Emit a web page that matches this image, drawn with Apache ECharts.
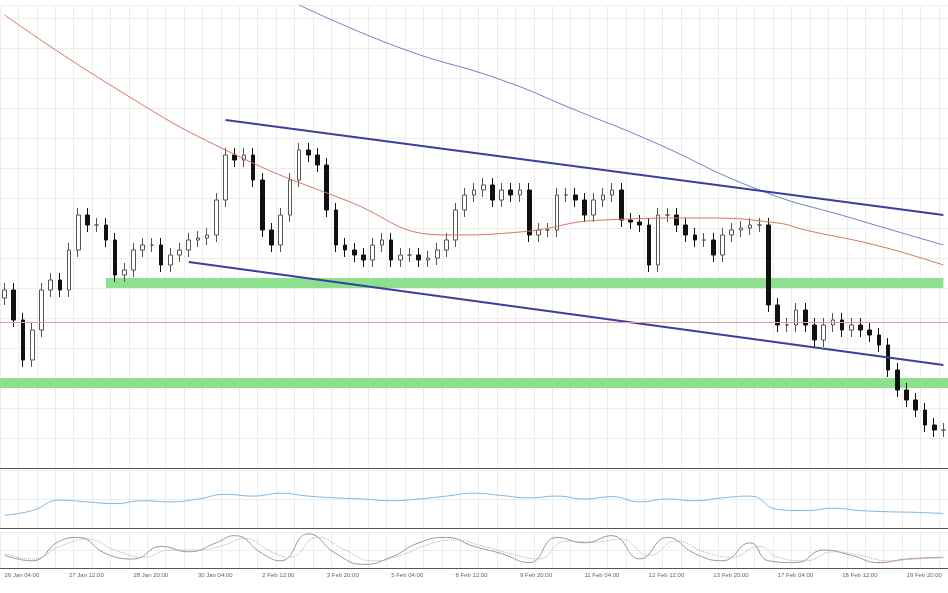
<!DOCTYPE html><html><head><meta charset="utf-8">
<script src="https://cdn.jsdelivr.net/npm/echarts@6/dist/echarts.min.js"></script>
<style>html,body{margin:0;background:#fff}#c{width:948px;height:593px}</style></head><body><div id="c"></div>
<script>
// closes in chart price units
const closes=[178,148,108,138,178,188,178,218,253,243,243,228,193,198,218,223,223,203,213,218,228,230,233,268,313,308,313,288,238,223,253,288,318,313,303,258,223,218,213,208,223,228,208,213,213,208,210,218,228,258,273,278,283,268,278,273,278,233,238,238,273,273,268,253,268,273,278,248,246,243,203,253,253,243,233,228,228,213,233,238,240,243,243,163,143,143,158,143,128,143,148,138,143,138,133,123,98,78,68,58,43,38,38];
const firstOpen=170;
const labels=["26 Jan 04:00","27 Jan 12:00","28 Jan 20:00","30 Jan 04:00","2 Feb 12:00","3 Feb 20:00","5 Feb 04:00","6 Feb 12:00","9 Feb 20:00","11 Feb 04:00","12 Feb 12:00","13 Feb 20:00","17 Feb 04:00","18 Feb 12:00","19 Feb 20:00","23 Feb 04:00","24 Feb 12:00","25 Feb 20:00","27 Feb 04:00","2 Mar 12:00","3 Mar 20:00","5 Mar 04:00"];
const maRed=[[0,453],[12,380],[24,318],[37,268],[48,233],[56,236],[65,248],[76,250],[84,245],[87,238],[95,222],[102,203]];
const maBlue=[[32,463],[43,420],[54,388],[62,358],[70,328],[82,278],[92,250],[102,223]];
const trendUp=[[24,348],[102,253]];
const trendDown=[[20,206],[102,103]];
const bandHigh=[180,190], bandLow=[80,90], redLevel=146;
const rsi=[[0,22],[3,30],[6,48],[9,45],[12,42],[15,47],[18,45],[21,50],[24,58],[27,55],[30,60],[33,55],[36,52],[39,50],[42,47],[45,50],[48,55],[51,60],[54,56],[57,52],[60,55],[63,50],[66,54],[69,45],[72,50],[75,47],[78,52],[81,55],[84,32],[87,30],[90,34],[93,30],[96,28],[99,27],[102,25]];
const stochK=[[0,35],[3,20],[6,75],[8,85],[11,40],[14,25],[17,60],[20,45],[23,70],[25,90],[28,40],[30,20],[33,95],[36,40],[39,10],[42,30],[45,70],[48,85],[51,60],[54,40],[57,15],[60,85],[63,70],[66,90],[69,25],[72,85],[75,40],[78,20],[81,70],[83,20],[86,15],[89,50],[92,35],[95,15],[98,25],[102,30]];
const stochD=[[0,40],[3,25],[6,60],[9,80],[12,50],[15,30],[18,50],[21,50],[24,65],[26,82],[29,45],[31,30],[34,85],[37,50],[40,20],[43,35],[46,65],[49,78],[52,60],[55,40],[58,25],[61,75],[64,72],[67,80],[70,35],[73,75],[76,45],[79,30],[82,60],[84,30],[87,20],[90,45],[93,35],[96,20],[99,25],[102,28]];

const N=closes.length;
const cats=closes.map((_,i)=>i%7===0?(labels[i/7]||''):'');
const ohlc=closes.map((c,i)=>{const o=i?closes[i-1]:firstOpen;return [o,c,Math.min(o,c)-7,Math.max(o,c)+7];});
const ch=echarts.init(document.getElementById('c'));
const xa=(g,show)=>({type:'category',gridIndex:g,data:cats,boundaryGap:true,
 axisLine:{show:true,lineStyle:{color:'#555'}},axisTick:{show:false},
 axisLabel:{show:show,interval:0,fontSize:6,color:'#666',margin:4,align:'left'},
 splitLine:{show:true,interval:(i)=>i%2===0,lineStyle:{color:'#ececec'}}});
const ya=(g,min,max)=>({type:'value',gridIndex:g,min,max,axisLabel:{show:false},axisTick:{show:false},axisLine:{show:false},
 splitLine:{show:true,lineStyle:{color:'#ececec'}},splitNumber:g?2:16});
ch.setOption({animation:false,
 grid:[{left:0,right:0,top:5,height:463},{left:0,right:0,top:470,height:58},{left:0,right:0,top:532,height:36}],
 xAxis:[xa(0,false),xa(1,false),xa(2,true)],
 yAxis:[ya(0,0,463),ya(1,0,100),ya(2,0,100)],
 series:[
  {type:'candlestick',data:ohlc,barWidth:'45%',itemStyle:{color:'#fff',color0:'#111',borderColor:'#555',borderColor0:'#111'},
   markArea:{silent:true,itemStyle:{color:'#8de08d'},data:[[{xAxis:11,yAxis:bandHigh[0]},{xAxis:N-1,yAxis:bandHigh[1]}],[{yAxis:bandLow[0]},{yAxis:bandLow[1]}]]},
   markLine:{silent:true,symbol:'none',label:{show:false},lineStyle:{color:'#e39a9a',type:'solid',width:1},data:[{yAxis:redLevel}]}},
  {type:'line',data:maRed,smooth:true,symbol:'none',lineStyle:{color:'#d9735f',width:1}},
  {type:'line',data:maBlue,smooth:true,symbol:'none',lineStyle:{color:'#6f7fc9',width:1}},
  {type:'line',data:trendUp,symbol:'none',lineStyle:{color:'#3a3fa0',width:2}},
  {type:'line',data:trendDown,symbol:'none',lineStyle:{color:'#3a3fa0',width:2}},
  {type:'line',xAxisIndex:1,yAxisIndex:1,data:rsi,smooth:true,symbol:'none',lineStyle:{color:'#7fb6e0',width:1}},
  {type:'line',xAxisIndex:2,yAxisIndex:2,data:stochK,smooth:true,symbol:'none',lineStyle:{color:'#999',width:1}},
  {type:'line',xAxisIndex:2,yAxisIndex:2,data:stochD,smooth:true,symbol:'none',lineStyle:{color:'#d99',width:1,type:'dotted'}}
 ]});
</script></body></html>
